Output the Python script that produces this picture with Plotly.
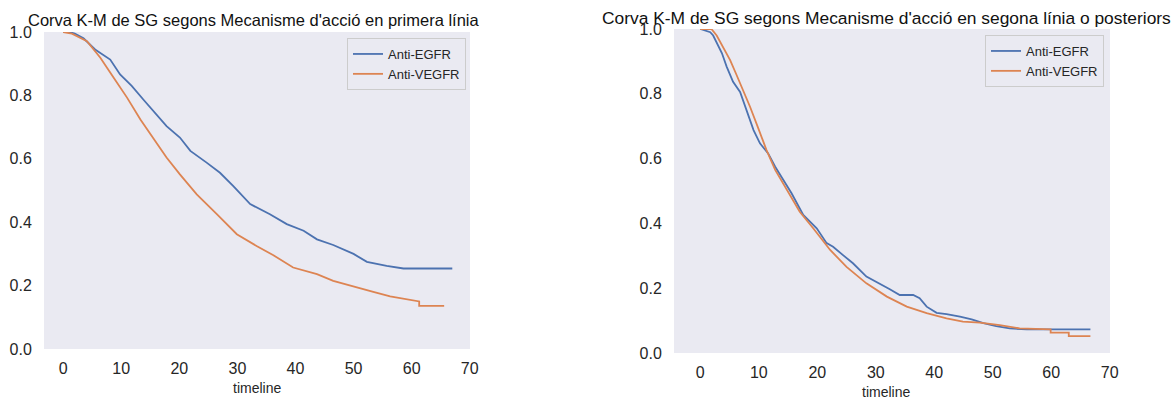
import plotly.graph_objects as go

# ---------------- data ----------------
series_names = ["Anti-EGFR", "Anti-VEGFR"]

# Left panel: primera línia
l1_egfr_t = [0, 1.0, 2.0, 3.5, 5.5, 8.1, 9.8, 11.8, 13.8, 16.1, 17.8, 20.1, 21.9, 24.7, 27.0,
             29.3, 32.2, 35.6, 38.5, 41.4, 43.7, 46.5, 50.0, 52.3, 55.7, 58.6, 67.0]
l1_egfr_s = [1.0, 1.0, 0.995, 0.98, 0.945, 0.913, 0.866, 0.83, 0.787, 0.74, 0.703, 0.667, 0.625,
             0.588, 0.556, 0.514, 0.457, 0.425, 0.394, 0.373, 0.346, 0.328, 0.30, 0.275, 0.262,
             0.254, 0.254]
l1_vegfr_t = [0, 1.5, 4.1, 6.4, 8.7, 11.0, 13.3, 15.5, 17.8, 20.1, 23.0, 26.5, 29.9, 33.3, 36.2,
              39.6, 43.7, 46.5, 50.0, 53.4, 56.3, 59.7, 61.3, 61.3, 65.6]
l1_vegfr_s = [1.0, 0.995, 0.971, 0.919, 0.856, 0.793, 0.724, 0.667, 0.604, 0.551, 0.488, 0.425,
              0.362, 0.325, 0.296, 0.257, 0.236, 0.215, 0.196, 0.18, 0.166, 0.155, 0.15, 0.136,
              0.136]

# Right panel: segona línia o posteriors
l2_egfr_t = [0, 1.7, 2.2, 2.8, 3.7, 4.5, 5.6, 6.8, 7.3, 8.2, 9.1, 10.2, 11.6, 12.8, 14.2, 15.6,
             17.6, 19.9, 21.6, 22.7, 24.4, 26.1, 28.4, 30.7, 32.4, 34.1, 36.4, 37.5, 38.7, 40.4,
             42.1, 44.4, 46.4, 48.4, 50.6, 52.9, 55.8, 66.7]
l2_egfr_s = [1.0, 0.99, 0.98, 0.956, 0.925, 0.884, 0.837, 0.806, 0.78, 0.729, 0.688, 0.647, 0.616,
             0.575, 0.534, 0.493, 0.426, 0.385, 0.339, 0.328, 0.302, 0.277, 0.236, 0.215, 0.197,
             0.179, 0.179, 0.169, 0.143, 0.124, 0.12, 0.112, 0.104, 0.092, 0.083, 0.076, 0.073,
             0.073]
l2_vegfr_t = [0, 1.9, 2.8, 3.9, 5.1, 6.2, 7.3, 8.5, 9.9, 11.3, 12.8, 14.8, 17.0, 19.3, 22.2, 25.0,
              28.4, 31.9, 35.3, 38.7, 42.1, 44.9, 47.8, 51.2, 54.6, 59.9, 59.9, 63.0, 63.0, 66.7]
l2_vegfr_s = [1.0, 1.0, 0.98, 0.945, 0.904, 0.858, 0.812, 0.76, 0.694, 0.627, 0.565, 0.503, 0.436,
              0.385, 0.318, 0.266, 0.215, 0.174, 0.143, 0.123, 0.107, 0.097, 0.094, 0.086, 0.076,
              0.073, 0.063, 0.063, 0.052, 0.052]

x_ticks = [0, 10, 20, 30, 40, 50, 60, 70]
y_ticks = [0.0, 0.2, 0.4, 0.6, 0.8, 1.0]
y_tick_text = ["0.0", "0.2", "0.4", "0.6", "0.8", "1.0"]

title_left = "Corva K-M de SG segons Mecanisme d'acció en primera línia"
title_right = "Corva K-M de SG segons Mecanisme d'acció en segona línia o posteriors"
x_label = "timeline"

# ---------------- styling ----------------
W, H = 1174, 397
BLUE = "#4C72B0"
ORANGE = "#DD8452"
BG = "#EAEAF2"
TXT = "#262626"
FONT = "Liberation Sans, Arial, sans-serif"


def px_x(p):
    return p / W


def px_y(p):
    return 1 - p / H


fig = go.Figure()

for xs, ys, name, col, xa, ya, lg in [
    (l1_egfr_t, l1_egfr_s, series_names[0], BLUE, "x", "y", "legend"),
    (l1_vegfr_t, l1_vegfr_s, series_names[1], ORANGE, "x", "y", "legend"),
    (l2_egfr_t, l2_egfr_s, series_names[0], BLUE, "x2", "y2", "legend2"),
    (l2_vegfr_t, l2_vegfr_s, series_names[1], ORANGE, "x2", "y2", "legend2"),
]:
    fig.add_trace(go.Scatter(x=xs, y=ys, mode="lines", name=name,
                             line=dict(color=col, width=1.8),
                             xaxis=xa, yaxis=ya, legend=lg, hoverinfo="skip"))

common_x = dict(showgrid=False, zeroline=False, showline=False, automargin=False,
                tickmode="array", tickvals=x_ticks,
                ticks="outside", ticklen=5, tickcolor="rgba(0,0,0,0)",
                tickfont=dict(family=FONT, size=16, color=TXT))
common_y = dict(showgrid=False, zeroline=False, showline=False, automargin=False,
                tickmode="array", tickvals=y_ticks, ticktext=y_tick_text,
                ticks="outside", ticklen=8, tickcolor="rgba(0,0,0,0)",
                tickfont=dict(family=FONT, size=16, color=TXT), range=[0, 1.0])

legend_common = dict(bgcolor=BG, bordercolor="#CCCCCC", borderwidth=1,
                     font=dict(family=FONT, size=13, color=TXT),
                     itemwidth=30, tracegroupgap=0, xanchor="right", yanchor="top")

fig.update_layout(
    width=W, height=H,
    margin=dict(l=0, r=0, t=0, b=0, autoexpand=False),
    paper_bgcolor="white", plot_bgcolor=BG,
    font=dict(family=FONT, color=TXT),
    xaxis=dict(domain=[px_x(44), px_x(470)], range=[-3.3, 70.05], anchor="y", **common_x),
    yaxis=dict(domain=[px_y(349), px_y(32)], anchor="x", **common_y),
    xaxis2=dict(domain=[px_x(674), px_x(1110)], range=[-4.5, 70.05], anchor="y2", **common_x),
    yaxis2=dict(domain=[px_y(353), px_y(29)], anchor="x2", **common_y),
    legend=dict(x=px_x(466), y=px_y(38), **legend_common),
    legend2=dict(x=px_x(1104), y=px_y(35), **legend_common),
    showlegend=True,
    annotations=[
        dict(text=title_left, x=px_x(253), y=px_y(20), xref="paper", yref="paper",
             xanchor="center", yanchor="middle", showarrow=False,
             font=dict(family=FONT, size=16.5, color="#111111")),
        dict(text=title_right, x=px_x(886), y=px_y(18), xref="paper", yref="paper",
             xanchor="center", yanchor="middle", showarrow=False,
             font=dict(family=FONT, size=17.4, color="#111111")),
        dict(text=x_label, x=px_x(257), y=px_y(388), xref="paper", yref="paper",
             xanchor="center", yanchor="middle", showarrow=False,
             font=dict(family=FONT, size=14, color=TXT)),
        dict(text=x_label, x=px_x(886), y=px_y(392), xref="paper", yref="paper",
             xanchor="center", yanchor="middle", showarrow=False,
             font=dict(family=FONT, size=14, color=TXT)),
    ],
)

fig.write_html("out.html", config={"displayModeBar": False},
               post_script="document.body.style.margin='0px';document.body.style.overflow='hidden';")
